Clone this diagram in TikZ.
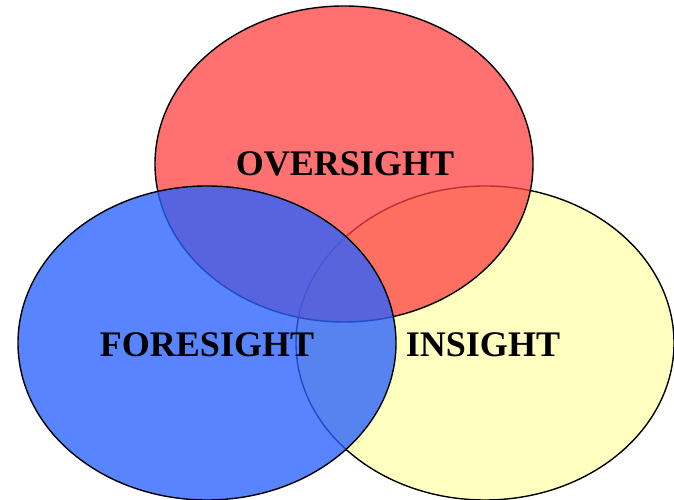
\documentclass[tikz,border=0pt]{standalone}
\usepackage{fontspec}
\setmainfont{Liberation Serif}
\begin{document}
\begin{tikzpicture}[x=1pt,y=1pt,
  ring/.style={draw=black,line width=1.4pt},
  lbl/.style={font=\fontsize{36}{40}\selectfont\bfseries,text=black,inner sep=0pt}]
\definecolor{insightfill}{RGB}{255,255,192}
\definecolor{oversightfill}{RGB}{255,64,64}
\definecolor{foresightfill}{RGB}{41,97,255}
\useasboundingbox (0,0) rectangle (674,500);
\clip (0,0) rectangle (674,500);
% the three overlapping sets
\draw[ring,fill=insightfill] (485,157) ellipse [x radius=189,y radius=157];
\draw[ring,fill=oversightfill,fill opacity=0.75] (344,336) ellipse [x radius=189,y radius=158];
\draw[ring,fill=foresightfill,fill opacity=0.78] (207,157) ellipse [x radius=189,y radius=157];
% labels
\node[lbl] (over) at (345,336) {OVERSIGHT};
\node[lbl] (fore) at (207,155) {FORESIGHT};
\node[lbl] (in) at (483,155) {INSIGHT};
\end{tikzpicture}
\end{document}
